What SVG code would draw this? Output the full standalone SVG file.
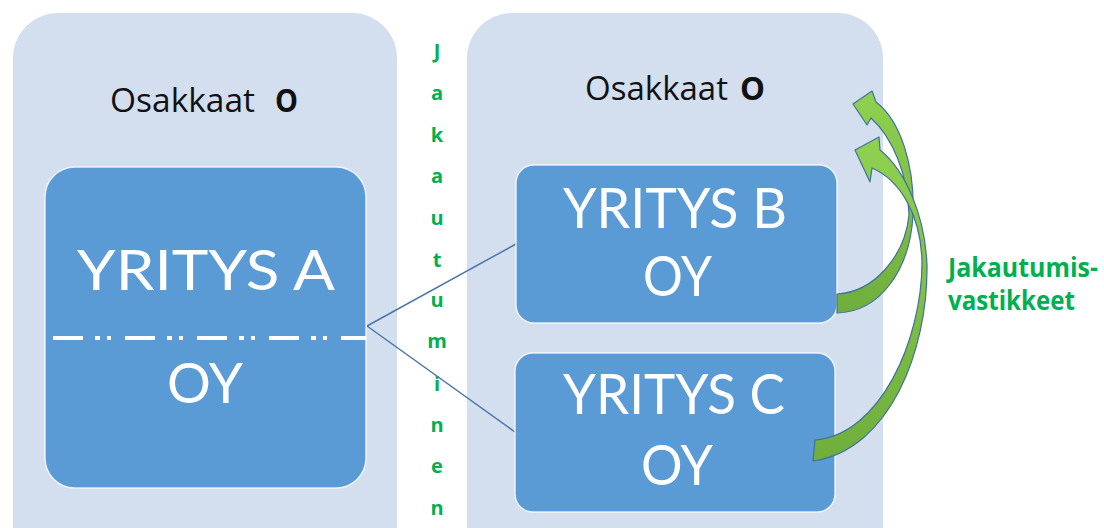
<svg xmlns="http://www.w3.org/2000/svg" width="1104" height="528" viewBox="0 0 1104 528">
  <defs>
    <linearGradient id="arrowFill" x1="0" y1="0" x2="0" y2="1">
      <stop offset="0" stop-color="#8fd14f"/>
      <stop offset="1" stop-color="#6fae3c"/>
    </linearGradient>
  </defs>
  <style>
    .panel { fill: #d3deef; }
    .company { fill: #5b9bd5; stroke: #ffffff; stroke-width: 1.5; stroke-opacity: 0.8; }
    .title { font-family: "Open Sans", "Liberation Sans", sans-serif; font-size: 32px; fill: #111111; }
    .title .b { font-weight: bold; }
    .name { font-family: Lato, "Open Sans", sans-serif; font-size: 56px; fill: #ffffff; }
    .green { font-family: "Open Sans", "Liberation Sans", sans-serif; font-weight: bold; fill: #00b050; }
    .vert { font-size: 20px; text-anchor: middle; }
    .side { font-size: 26px; }
    .link { stroke: #4a76b0; stroke-width: 1.5; fill: none; }
    .split { stroke: #ffffff; stroke-width: 4; stroke-dasharray: 30 12 5 7 4 14; fill: none; }
    .curved { fill: url(#arrowFill); stroke: #41719c; stroke-width: 1.2; stroke-linejoin: round; }
  </style>

  <rect width="1104" height="528" fill="#ffffff"/>

  <!-- shareholder panels -->
  <g id="panel-left">
    <rect class="panel" x="13" y="13" width="384" height="560" rx="45"/>
    <text class="title" y="112"><tspan x="110" textLength="145" lengthAdjust="spacingAndGlyphs">Osakkaat</tspan><tspan class="b" x="275" textLength="23" lengthAdjust="spacingAndGlyphs">O</tspan></text>
  </g>
  <g id="panel-right">
    <rect class="panel" x="467" y="13" width="416" height="560" rx="45"/>
    <text class="title" y="100"><tspan x="585" textLength="143" lengthAdjust="spacingAndGlyphs">Osakkaat</tspan><tspan class="b" x="740" textLength="25" lengthAdjust="spacingAndGlyphs">O</tspan></text>
  </g>

  <!-- vertical label between the panels -->
  <g id="label-jakautuminen" class="green vert">
    <text x="437" y="58">J</text>
    <text x="437" y="100">a</text>
    <text x="437" y="142">k</text>
    <text x="437" y="183">a</text>
    <text x="437" y="225">u</text>
    <text x="437" y="267">t</text>
    <text x="437" y="307">u</text>
    <text x="437" y="348">m</text>
    <text x="437" y="391">i</text>
    <text x="437" y="432">n</text>
    <text x="437" y="473">e</text>
    <text x="437" y="515">n</text>
  </g>

  <!-- demerger connectors -->
  <g id="connectors">
    <line class="link" x1="367" y1="326" x2="516" y2="244"/>
    <line class="link" x1="367" y1="326" x2="515" y2="432"/>
  </g>

  <!-- companies -->
  <g id="company-a">
    <rect class="company" x="45" y="167" width="321" height="321" rx="30"/>
    <text class="name" x="77" y="290" textLength="258" lengthAdjust="spacingAndGlyphs">YRITYS A</text>
    <line class="split" x1="53" y1="338" x2="366" y2="338"/>
    <text class="name" x="167" y="403" textLength="76" lengthAdjust="spacingAndGlyphs">OY</text>
  </g>
  <g id="company-b">
    <rect class="company" x="516" y="165" width="321" height="158" rx="18"/>
    <text class="name" x="563" y="228" textLength="224" lengthAdjust="spacingAndGlyphs">YRITYS B</text>
    <text class="name" x="643" y="296" textLength="69" lengthAdjust="spacingAndGlyphs">OY</text>
  </g>
  <g id="company-c">
    <rect class="company" x="515" y="353" width="320" height="159" rx="18"/>
    <text class="name" x="563" y="414" textLength="222" lengthAdjust="spacingAndGlyphs">YRITYS C</text>
    <text class="name" x="641" y="485" textLength="72" lengthAdjust="spacingAndGlyphs">OY</text>
  </g>

  <!-- consideration arrows back to the shareholders -->
  <g id="arrows">
    <path id="arrow-from-b" class="curved" d="M853 104 L872 91 L876 102 C900 120 915 165 913 215 C910 270 880 312 837 313 L837 294 C875 292 905 255 909 215 C908 175 893 138 871 118 L867 125 Z"/>
    <path id="arrow-from-c" class="curved" d="M855 150 L879 137 L880 150 C905 170 925 215 927 265 C928 350 890 450 813 461 L815 440 C880 435 922 340 922 262 C921 215 900 180 872 168 L870 182 Z"/>
  </g>

  <g id="label-vastikkeet" class="green side">
    <text x="948" y="277" textLength="150" lengthAdjust="spacingAndGlyphs">Jakautumis-</text>
    <text x="948" y="310" textLength="127" lengthAdjust="spacingAndGlyphs">vastikkeet</text>
  </g>
</svg>
